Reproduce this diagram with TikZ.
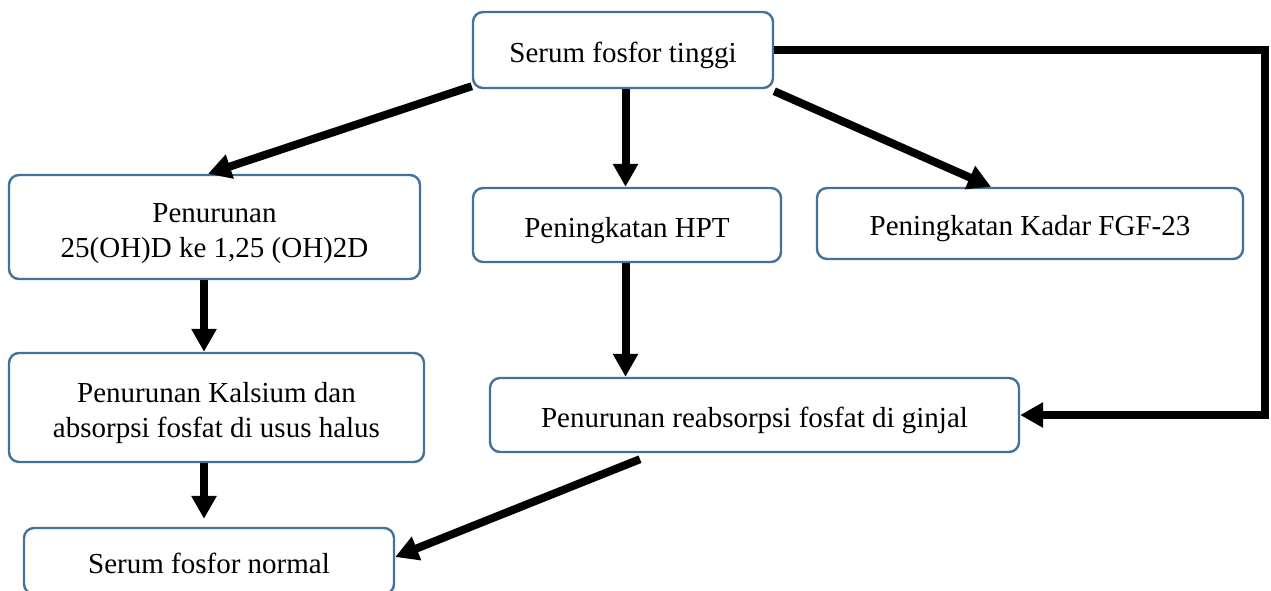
\documentclass[tikz,border=0pt]{standalone}
\usepackage{fontspec}
\setmainfont{Liberation Serif}
\usetikzlibrary{arrows.meta,calc}
\definecolor{boxblue}{RGB}{65,113,156}
\begin{document}
\begin{tikzpicture}[x=0.5pt,y=-0.5pt,
  box/.style={draw=boxblue, line width=1.2pt, rounded corners=5pt, fill=white,
    inner sep=0pt, align=center, font=\fontsize{14.5pt}{17.5pt}\selectfont},
  oneline/.style={box, text height=15pt, text depth=3pt},
  arr/.style={line width=4pt, -{Triangle[length=11.5pt,width=12pt]}}]
\useasboundingbox (0,0) rectangle (1271,590);
\node[oneline, minimum width=150pt, minimum height=38pt] (top) at (623,50) {Serum fosfor tinggi};
\node[box, minimum width=205.5pt, minimum height=52pt] (l1) at (214.5,227) {\rule{0pt}{16pt}Penurunan\\25(OH)D ke 1,25 (OH)2D};
\node[oneline, minimum width=154pt, minimum height=37pt] (hpt) at (627,225) {Peningkatan HPT};
\node[oneline, minimum width=213pt, minimum height=35.5pt] (fgf) at (1030,223.5) {Peningkatan Kadar FGF-23};
\node[box, minimum width=207.5pt, minimum height=54.5pt] (l2) at (216.5,407.5) {\rule{0pt}{16pt}Penurunan Kalsium dan\\absorpsi fosfat di usus halus};
\node[oneline, minimum width=264.5pt, minimum height=37pt] (gin) at (754.5,415) {Penurunan reabsorpsi fosfat di ginjal};
\node[oneline, minimum width=185pt, minimum height=33pt] (norm) at (209,561) {Serum fosfor normal};
\coordinate (ax) at (204,0);
\coordinate (bx) at (625.5,0);
\coordinate (c1) at (1265,50);
\draw[arr] ($(top.south west)+(0,-3)$) -- ($(l1.north)+(-6.5,0)$);
\draw[arr] (bx |- top.south) -- (bx |- hpt.north);
\draw[arr] ($(top.south east)+(0,2)$) -- ($(fgf.north)+(-39,0)$);
\draw[arr] (top.east) -- (c1) |- (gin.east);
\draw[arr] (ax |- l1.south) -- (ax |- l2.north);
\draw[arr] (ax |- l2.south) -- ($(ax |- norm.north)+(0,-8)$);
\draw[arr] (bx |- hpt.south) -- (bx |- gin.north);
\draw[arr] ($(gin.south)+(-114.5,6)$) -- ($(norm.east)+(0,-4)$);
\end{tikzpicture}
\end{document}
